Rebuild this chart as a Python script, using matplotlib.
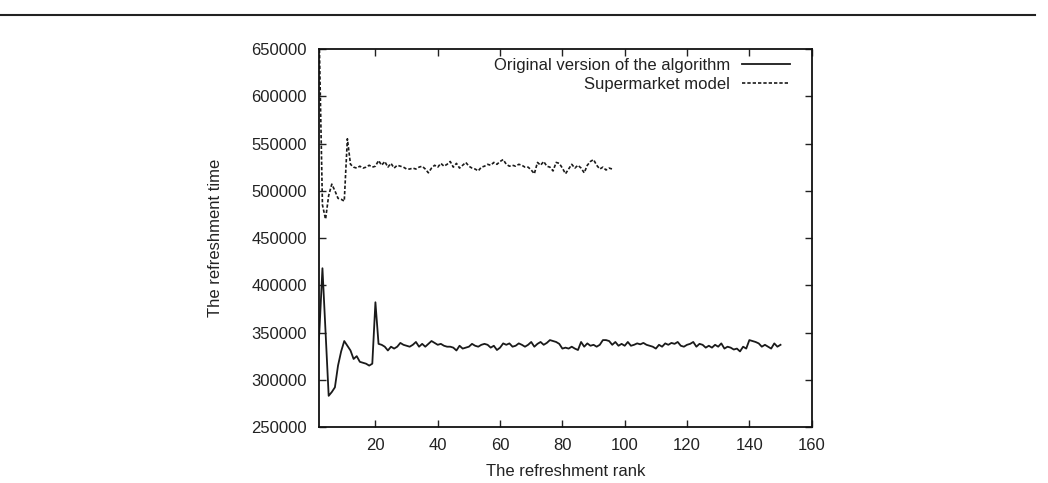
import matplotlib
matplotlib.use("Agg")
import matplotlib.pyplot as plt
from matplotlib.lines import Line2D

plt.rcParams['font.family'] = ['Liberation Sans', 'DejaVu Sans']

# Original version of the algorithm (rank 1..150), values in refreshment time
orig_rank = list(range(1, 151))
orig_time = [
    300000, 350000, 418000, 350000, 283000, 287000, 292000, 315000, 330000, 341000,
    336000, 331000, 322000, 325000, 319000, 318000, 317000, 315000, 317000, 382000,
    338000, 337000, 335000, 331000, 335000, 333000, 335000, 339000, 337000, 336000,
    335000, 337000, 340000, 335000, 338000, 335000, 338000, 341000, 339000, 337000,
    338000, 336000, 335000, 335000, 334000, 331000, 336000, 333000, 334000, 335000,
    338000, 336000, 335000, 337000, 338000, 337000, 334000, 336000, 331500, 334000,
    338500, 337000, 338500, 335000, 336000, 338500, 337000, 335000, 337000, 340000,
    335000, 338000, 340000, 337000, 339000, 342000, 341000, 340000, 338000, 333000,
    334000, 333000, 335000, 333000, 331500, 340000, 335000, 338500, 336000, 337000,
    335000, 337000, 342000, 342000, 341000, 337000, 340000, 336000, 338000, 336000,
    340000, 336000, 337000, 338500, 337500, 339000, 337000, 336000, 335000, 333000,
    337000, 335000, 338500, 337000, 339000, 338000, 340000, 336000, 335000, 337000,
    338000, 340000, 335000, 338000, 337000, 334000, 336000, 334000, 337000, 335000,
    338500, 333000, 335000, 334000, 332000, 333000, 330000, 335000, 333000, 342000,
    341000, 340000, 338500, 335000, 337000, 335000, 333000, 338500, 335000, 337000,
]

# Supermarket model (rank 1..96)
super_rank = list(range(1, 97))
super_time = [
    700000, 655000, 485000, 470000, 495000, 507000, 500000, 492000, 491000, 489000,
    555000, 528000, 525000, 524000, 526000, 524000, 525000, 527000, 525000, 526000,
    532000, 527000, 531000, 525000, 529000, 524000, 527000, 526000, 525000, 523000,
    523000, 524000, 523000, 525000, 526000, 523000, 519000, 524000, 527000, 525000,
    529000, 526000, 528000, 531000, 525000, 529000, 524000, 527000, 530000, 526000,
    524000, 523000, 521000, 525000, 526000, 528000, 527000, 530000, 528000, 531000,
    533000, 528000, 526000, 527000, 526000, 528000, 527000, 525000, 525000, 522000,
    518000, 530000, 527000, 531000, 526000, 525000, 521000, 530000, 529000, 524000,
    518000, 523000, 528000, 524000, 527000, 524000, 519000, 527000, 531000, 533000,
    527000, 523000, 525000, 522000, 524000, 523000,
]

x_ticks = [20, 40, 60, 80, 100, 120, 140, 160]
y_ticks = [250000, 300000, 350000, 400000, 450000, 500000, 550000, 600000, 650000]

fig = plt.figure(figsize=(10.48, 4.83), dpi=100)
ax = fig.add_axes([0.3047, 0.1159, 0.4698, 0.7826])

col = '#1a1a1a'
ax.plot(orig_rank, orig_time, color=col, lw=1.3, label='Original version of the algorithm')
ax.plot(super_rank, super_time, color=col, lw=1.2, dashes=(2.0, 1.2),
        label='Supermarket model')

ax.set_xlim(2, 160)
ax.set_ylim(250000, 650000)
ax.set_xticks(x_ticks)
ax.set_yticks(y_ticks)
ax.set_xticklabels([str(t) for t in x_ticks])
ax.set_yticklabels([str(t) for t in y_ticks])
ax.tick_params(direction='in', length=5, width=1.0, top=True, right=True,
               labelsize=12, colors='#222222', pad=9)
ax.tick_params(axis='x', pad=8)
for s in ax.spines.values():
    s.set_linewidth(1.3)
    s.set_color('#111111')

ax.set_xlabel('The refreshment rank', fontsize=12, color='#222222', labelpad=8)
ax.set_ylabel('The refreshment time', fontsize=12, color='#222222', labelpad=20)

leg = ax.legend(loc='upper right', bbox_to_anchor=(0.9626, 0.9857),
                frameon=False, markerfirst=False, fontsize=12,
                handlelength=2.9, handletextpad=0.7, labelspacing=0.23,
                borderaxespad=0.0, borderpad=0.2)
for t in leg.get_texts():
    t.set_color('#222222')

fig.add_artist(Line2D([0.0, 0.988], [0.969, 0.969], transform=fig.transFigure,
                      color='#222222', lw=1.5))

fig.savefig('out.png', dpi=100)
